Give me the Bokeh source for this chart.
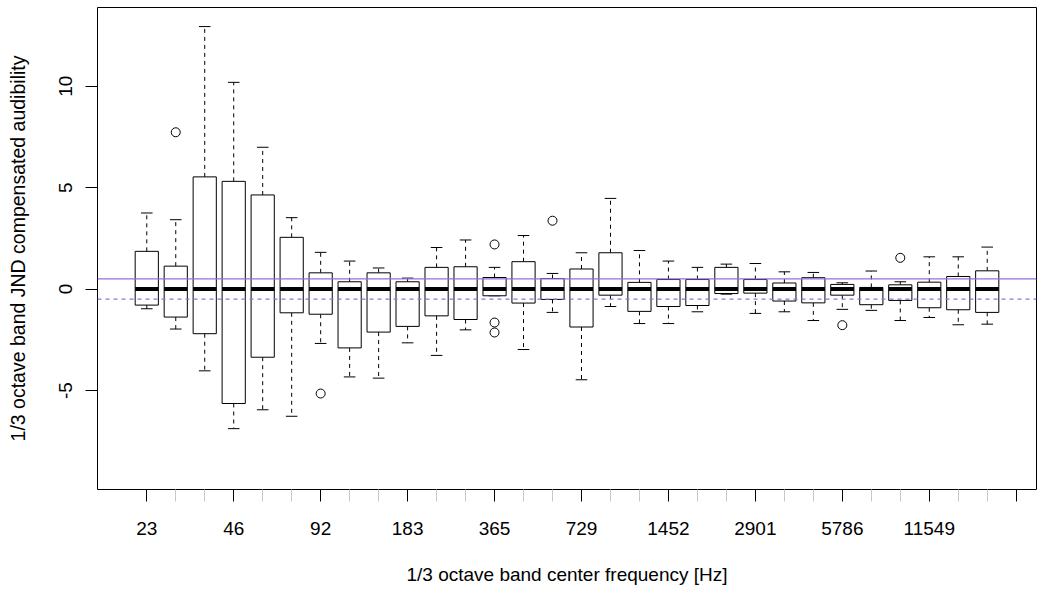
from bokeh.plotting import figure
from bokeh.models import Range1d, FixedTicker, Span, ColumnDataSource
from bokeh.embed import file_html
from bokeh.resources import INLINE

# ---- data ----
freq_labels = ["23", "46", "92", "183", "365", "729", "1452", "2901", "5786", "11549"]
label_positions = [1, 4, 7, 10, 13, 16, 19, 22, 25, 28]
extra_major_tick = [31]
y_ticks = [-5, 0, 5, 10]
y_tick_labels = ["-5", "0", "5", "10"]
band = list(range(1, 31))
whisker_low = [-0.97, -1.97, -4.03, -6.88, -5.95, -6.27, -2.68, -4.33, -4.39, -2.65,
               -3.27, -2.01, -0.33, -2.98, -1.15, -4.47, -0.86, -1.70, -1.70, -1.12,
               -0.25, -1.20, -1.12, -1.55, -1.00, -1.05, -1.55, -1.40, -1.76, -1.73]
q1 = [-0.79, -1.38, -2.20, -5.64, -3.36, -1.17, -1.24, -2.90, -2.12, -1.84,
      -1.32, -1.50, -0.33, -0.69, -0.51, -1.87, -0.30, -1.10, -0.86, -0.81,
      -0.22, -0.20, -0.59, -0.68, -0.30, -0.77, -0.56, -0.92, -1.02, -1.15]
median = [0.0] * 30
q3 = [1.86, 1.13, 5.53, 5.31, 4.64, 2.55, 0.80, 0.36, 0.80, 0.36,
      1.07, 1.10, 0.57, 1.35, 0.52, 0.99, 1.79, 0.33, 0.47, 0.47,
      1.07, 0.47, 0.30, 0.56, 0.23, 0.08, 0.21, 0.34, 0.62, 0.90]
whisker_high = [3.75, 3.42, 12.94, 10.19, 6.99, 3.52, 1.81, 1.38, 1.04, 0.54,
                2.05, 2.42, 1.07, 2.64, 0.77, 1.79, 4.47, 1.90, 1.38, 1.07,
                1.23, 1.26, 0.85, 0.82, 0.31, 0.89, 0.36, 1.59, 1.59, 2.07]
outlier_band = [2, 7, 13, 13, 13, 15, 25, 27]
outlier_value = [7.73, -5.15, 2.20, -1.65, -2.14, 3.37, -1.78, 1.54]
upper_ref = 0.5
lower_ref = -0.5

FONT = "Liberation Sans"
BOXW = 0.8
CAPW = 0.4

src = ColumnDataSource(dict(
    x=band, wl=whisker_low, q1=q1, med=median, q3=q3, wh=whisker_high,
    left=[b - BOXW / 2 for b in band], right=[b + BOXW / 2 for b in band],
    cl=[b - CAPW / 2 for b in band], cr=[b + CAPW / 2 for b in band],
))

p = figure(width=1038, height=589, output_backend="svg", toolbar_location=None,
           x_range=Range1d(-0.7, 31.7), y_range=Range1d(-9.88, 13.88),
           min_border_left=97, min_border_right=2, min_border_top=7, min_border_bottom=100)
p.grid.visible = False
p.background_fill_color = "white"
p.border_fill_color = "white"
p.outline_line_color = "black"
p.outline_line_width = 1

# whiskers (dashed)
p.segment(x0="x", y0="q3", x1="x", y1="wh", source=src, line_color="black",
          line_width=1, line_dash="4 4")
p.segment(x0="x", y0="q1", x1="x", y1="wl", source=src, line_color="black",
          line_width=1, line_dash="4 4")
# caps
p.segment(x0="cl", y0="wh", x1="cr", y1="wh", source=src, line_color="black", line_width=1)
p.segment(x0="cl", y0="wl", x1="cr", y1="wl", source=src, line_color="black", line_width=1)
# boxes
p.quad(left="left", right="right", top="q3", bottom="q1", source=src,
       fill_color="white", line_color="black", line_width=1)
# medians
p.segment(x0="left", y0="med", x1="right", y1="med", source=src, line_color="black",
          line_width=4, line_cap="butt")
# outliers
p.scatter(x=outlier_band, y=outlier_value, marker="circle", size=9,
          fill_color=None, line_color="black", line_width=1)

p.add_layout(Span(location=upper_ref, dimension="width", line_color="mediumpurple",
                  line_width=1.2))
p.add_layout(Span(location=lower_ref, dimension="width", line_color="mediumpurple",
                  line_width=1.2, line_dash="4 4"))

# x axis
major = label_positions + extra_major_tick
minor = [b for b in range(1, 32) if b not in major]
xa = p.xaxis[0]
xa.ticker = FixedTicker(ticks=major, minor_ticks=minor)
overrides = {pos: lab for pos, lab in zip(label_positions, freq_labels)}
overrides[31] = ""
xa.major_label_overrides = overrides
xa.axis_line_color = None
xa.major_tick_in = 0
xa.major_tick_out = 12
xa.minor_tick_in = 0
xa.minor_tick_out = 12
xa.major_tick_line_color = "black"
xa.minor_tick_line_color = "#c8c8c8"
xa.major_label_text_font = FONT
xa.major_label_text_font_size = "19px"
xa.major_label_text_color = "black"
xa.major_label_standoff = 20
xa.axis_label = "1/3 octave band center frequency [Hz]"
xa.axis_label_text_font = FONT
xa.axis_label_text_font_size = "19px"
xa.axis_label_text_font_style = "normal"
xa.axis_label_text_color = "black"
xa.axis_label_standoff = 26

# y axis
ya = p.yaxis[0]
ya.ticker = FixedTicker(ticks=y_ticks, minor_ticks=[])
ya.major_label_overrides = {t: s for t, s in zip(y_ticks, y_tick_labels)}
ya.axis_line_color = None
ya.major_tick_in = 0
ya.major_tick_out = 12
ya.major_tick_line_color = "black"
ya.major_label_orientation = "vertical"
ya.major_label_text_font = FONT
ya.major_label_text_font_size = "19px"
ya.major_label_text_color = "black"
ya.major_label_standoff = 13
ya.axis_label = "1/3 octave band JND compensated audibility"
ya.axis_label_text_font = FONT
ya.axis_label_text_font_size = "19.5px"
ya.axis_label_text_font_style = "normal"
ya.axis_label_text_color = "black"
ya.axis_label_standoff = 28

open("out.html", "w").write(file_html(p, INLINE))
